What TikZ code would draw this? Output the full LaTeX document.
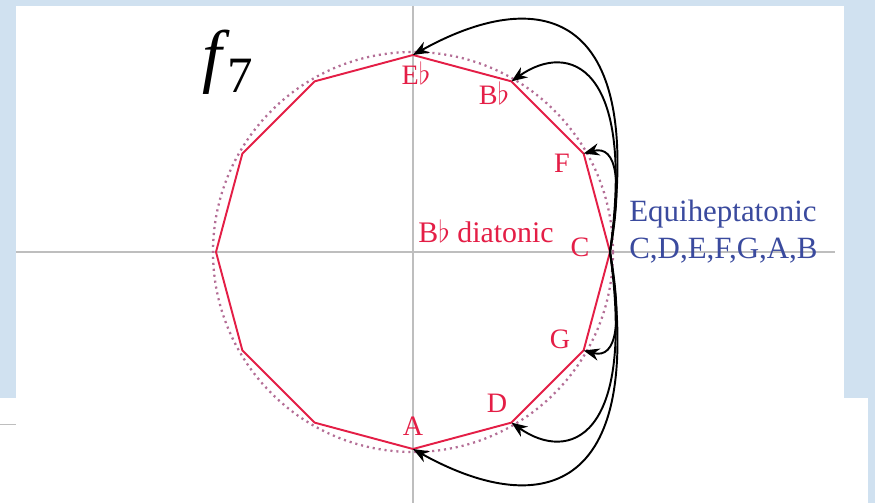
\documentclass[tikz,border=0pt]{standalone}
\usepackage{fontspec}
\setmainfont{Liberation Serif}
\usetikzlibrary{arrows.meta}
\definecolor{notered}{RGB}{228,30,70}
\definecolor{eqblue}{RGB}{58,74,158}
\definecolor{axisgray}{RGB}{190,190,190}
\definecolor{dotpink}{RGB}{180,110,150}
\definecolor{bgblue}{RGB}{208,225,240}
\tikzset{
  note/.style={text=notered,font=\fontsize{16}{16}\selectfont,anchor=base},
  eqtext/.style={text=eqblue,font=\fontsize{17.6}{17.6}\selectfont,anchor=base west,inner sep=0pt},
  jump/.style={-{Stealth[length=9pt,width=7pt]},line width=1.1pt},
}
\begin{document}
\begin{tikzpicture}[x=0.02cm,y=0.02cm]
\useasboundingbox (-413,-251) rectangle (462,252);
% slide background
\fill[bgblue] (-413,-251) rectangle (462,252);
\fill[white] (-397,-146) rectangle (431,246);
\fill[white] (-413,-251) rectangle (455,-146);
\draw[axisgray,line width=0.5pt] (-413,-172) -- (-397,-172);
% axes
\draw[axisgray,line width=0.8pt] (-397,0) -- (422,0);
\draw[axisgray,line width=0.8pt] (0,246) -- (0,-251);
% circle and diatonic polygon
\draw[dotpink,line width=1.3pt,dash pattern=on 1.2pt off 2.2pt] (0,0) circle (200);
\foreach \n [count=\i from 0] in {Eb,Bb,F,C,G,D,A,v7,v8,v9,v10,v11}
  \coordinate (\n) at (90-30*\i:197);
\draw[notered,line width=1.1pt] (Eb) -- (Bb) -- (F) -- (C) -- (G) -- (D) -- (A)
  -- (v7) -- (v8) -- (v9) -- (v10) -- (v11) -- cycle;
% labels
\node[note] (lEb) at (3,167) {E$\flat$};
\node[note] (lBb) at (81,147) {B$\flat$};
\node[note] (lF) at (149,79) {F};
\node[note] (lC) at (167,-5) {C};
\node[note] (lG) at (147,-96) {G};
\node[note] (lD) at (84,-160) {D};
\node[note] (lA) at (0,-183) {A};
\node[note,font=\fontsize{17}{17}\selectfont] (diat) at (73,9) {B$\flat$ diatonic};
\node[eqtext] (eq1) at (216,30) {Equiheptatonic};
\node[eqtext] (eq2) at (216,-7) {C,D,E,F,G,A,B};
\node[anchor=base west,inner sep=0pt] (f7) at (-211,172)
  {{\fontsize{40}{40}\selectfont\itshape f}\kern3pt{\fontsize{29}{29}\selectfont\raisebox{-7pt}{7}}};
% jumps from C
\draw[jump] (C) .. controls +(38,250) and +(122,68) .. (Eb);
\draw[jump] (C) .. controls +(26,188) and +(57,40) .. (Bb);
\draw[jump] (C) .. controls +(12,69) and +(34,9) .. (F);
\draw[jump] (C) .. controls +(12,-69) and +(34,-9) .. (G);
\draw[jump] (C) .. controls +(26,-188) and +(57,-40) .. (D);
\draw[jump] (C) .. controls +(38,-250) and +(122,-68) .. (A);
\end{tikzpicture}
\end{document}
